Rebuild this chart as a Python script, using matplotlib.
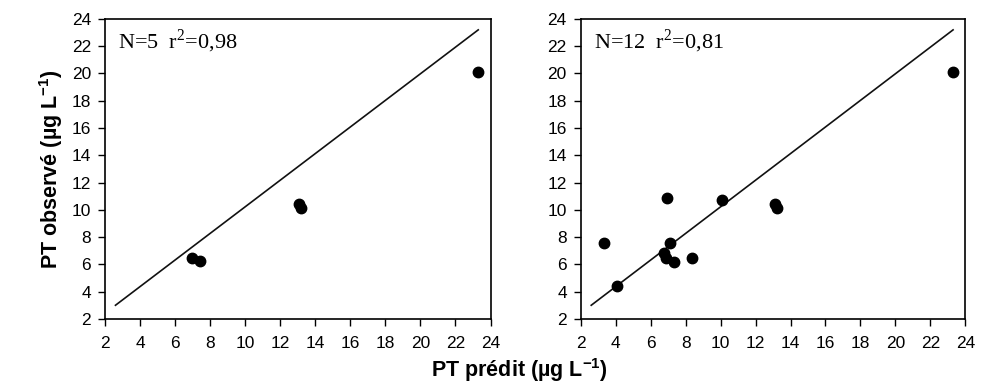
import numpy as np
import matplotlib.pyplot as plt

# 1:1-ish reference line (endpoints)
line_x = [2.6, 23.3]
line_y = [3.0, 23.2]

# left panel: N=5
pred_a = [6.95, 7.4, 13.1, 13.2, 23.3]
obs_a = [6.45, 6.25, 10.45, 10.15, 20.1]

# right panel: N=12
pred_b = [3.35, 4.1, 6.75, 6.85, 6.95, 7.1, 7.35, 8.35, 10.1, 13.1, 13.2, 23.3]
obs_b = [7.6, 4.4, 6.8, 6.5, 10.85, 7.55, 6.2, 6.45, 10.7, 10.45, 10.15, 20.1]

labels = ['N=5  r$^2$=0,98', 'N=12  r$^2$=0,81']
ticks = np.arange(2, 25, 2)


def main():
    plt.rcParams['font.family'] = 'Liberation Sans'
    # rm -> serif (for r^2 annotation), bf -> sans bold (for axis label exponents)
    plt.rcParams['mathtext.fontset'] = 'custom'
    plt.rcParams['mathtext.rm'] = 'Liberation Serif'
    plt.rcParams['mathtext.bf'] = 'Liberation Sans:bold'
    fig = plt.figure(figsize=(9.81, 3.87), dpi=100)
    ax1 = fig.add_axes([0.107, 0.176, 0.393, 0.775])
    ax2 = fig.add_axes([0.592, 0.176, 0.392, 0.775])

    for ax, x, y, lab in [(ax1, pred_a, obs_a, labels[0]), (ax2, pred_b, obs_b, labels[1])]:
        ax.plot(line_x, line_y, color='#111111', lw=1.2)
        ax.plot(x, y, 'o', color='black', ms=7.5, mec='black')
        ax.set_xlim(2, 24)
        ax.set_ylim(2, 24)
        ax.set_xticks(ticks)
        ax.set_yticks(ticks)
        ax.tick_params(direction='out', length=5, width=1, labelsize=12.5, pad=7)
        ax.tick_params(axis='y', pad=5)
        for s in ax.spines.values():
            s.set_linewidth(1.2)
        ax.text(0.035, 0.925, lab, transform=ax.transAxes, family='Liberation Serif',
                fontsize=16, va='center', ha='left')

    ax1.set_ylabel('PT observé (µg L$^{\\mathbf{-1}}$)', fontsize=15.5, fontweight='bold', labelpad=5)
    fig.text(0.53, 0.044, 'PT prédit (µg L$^{\\mathbf{-1}}$)', fontsize=15.5, fontweight='bold',
             ha='center', va='center')

    fig.savefig('out.png', dpi=100)


if __name__ == "__main__":
    main()
